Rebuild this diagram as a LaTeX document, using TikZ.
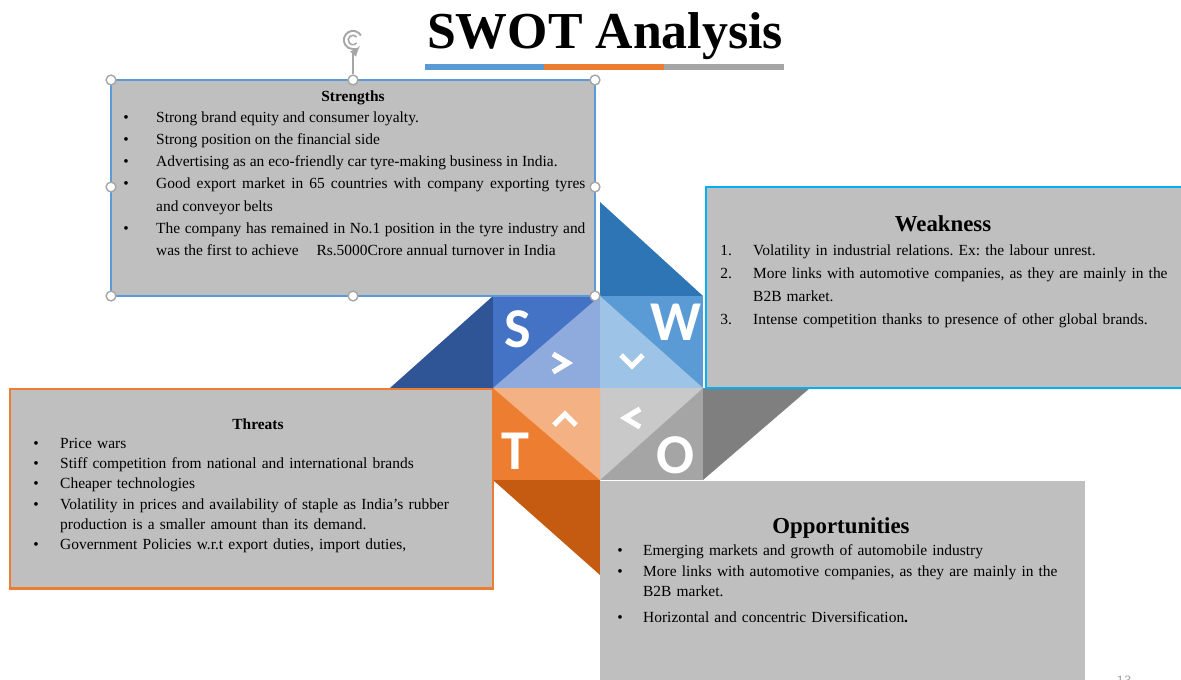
\documentclass[tikz,border=0pt]{standalone}
\usepackage{fontspec}
\setmainfont{Liberation Serif}
\newfontfamily\letterfont{Carlito}
\usepackage{tikz}
\usetikzlibrary{fit}

\definecolor{boxgray}{HTML}{BFBFBF}
\definecolor{sdark}{HTML}{2F5597}
\definecolor{sblue}{HTML}{4472C4}
\definecolor{slight}{HTML}{8FAADC}
\definecolor{wdark}{HTML}{2E75B6}
\definecolor{wblue}{HTML}{5B9BD5}
\definecolor{wlight}{HTML}{9DC3E6}
\definecolor{tdark}{HTML}{C55A11}
\definecolor{torange}{HTML}{ED7D31}
\definecolor{tlight}{HTML}{F4B183}
\definecolor{odark}{HTML}{7F7F7F}
\definecolor{ogray}{HTML}{A5A5A5}
\definecolor{olight}{HTML}{C9C9C9}
\definecolor{wframe}{HTML}{00B0F0}
\definecolor{handlegray}{HTML}{A6A6A6}

\hyphenpenalty=10000
\exhyphenpenalty=10000
\frenchspacing

\newcommand{\bulitem}[3]{\par\hangindent=#1\hangafter=1\noindent\makebox[#1][l]{#2}#3\par}

\tikzset{
  textbox/.style={fill=boxgray, inner sep=0pt, line width=1.7pt},
  listtext/.style={anchor=north west, inner sep=0pt, font=\fontsize{8.8}{12.6}\selectfont},
  boxhead/.style={inner sep=0pt, font=\bfseries\fontsize{13}{13}\selectfont},
  smallhead/.style={inner sep=0pt, font=\bfseries\fontsize{8.8}{8.8}\selectfont},
  quadletter/.style={inner sep=0pt, text=white, font=\letterfont\bfseries\fontsize{32}{32}\selectfont},
  chevron/.style={white, line width=3pt},
  handle/.style={circle, draw=handlegray, fill=white, line width=0.8pt, minimum size=5.6pt, inner sep=0pt}
}

\begin{document}
\begin{tikzpicture}[x=0.02cm, y=-0.02cm]
    \useasboundingbox (0,0) rectangle (1181,680);
    \clip (0,0) rectangle (1181,680);

    % title and coloured rule
    \node[inner sep=0pt, font=\bfseries\fontsize{29.5}{29.5}\selectfont] (title) at (605,36) {SWOT Analysis};
    \fill[wblue] (425,64) rectangle (544,70);
    \fill[torange] (544,64) rectangle (664,70);
    \fill[ogray] (664,64) rectangle (784,70);

    % pinwheel
    \fill[sdark] (390,388) -- (493,296) -- (493,388) -- cycle;
    \fill[sblue] (493,296) rectangle (600,388);
    \fill[slight] (493,388) -- (600,296) -- (600,388) -- cycle;
    \fill[wdark] (600,202) -- (703,296) -- (600,296) -- cycle;
    \fill[wblue] (600,296) rectangle (703,388);
    \fill[wlight] (600,296) -- (703,388) -- (600,388) -- cycle;
    \fill[odark] (703,388) -- (810,388) -- (703,480) -- cycle;
    \fill[ogray] (600,388) rectangle (703,480);
    \fill[olight] (600,388) -- (703,388) -- (600,480) -- cycle;
    \fill[tdark] (493,480) -- (600,480) -- (600,575) -- cycle;
    \fill[torange] (493,388) rectangle (600,480);
    \fill[tlight] (493,388) -- (600,388) -- (600,480) -- cycle;

    \node[quadletter] (S) at (518,329) {S};
    \node[quadletter] (W) at (676,322) {W};
    \node[quadletter] (T) at (515,451) {T};
    \node[quadletter] (O) at (676,455) {O};

    \draw[chevron] (553,354) -- (568,363) -- (553,372);
    \draw[chevron] (621,355) -- (632,366) -- (643,355);
    \draw[chevron] (554,425) -- (565,414) -- (576,425);
    \draw[chevron] (640,409) -- (625,418) -- (640,427);

    % strengths
    \node[textbox, draw=wblue, fit={(111,80) (595,296)}] (strengths) {};
    \node[smallhead] (strengths head) at (353,98) {Strengths};
    \node[listtext, text width=263pt, align=justify] (strengths list) at (123,100) {%
      \spaceskip=.25em plus .2em\relax
      \bulitem{18.7pt}{\textbullet}{Strong brand equity and consumer loyalty.}
      \bulitem{18.7pt}{\textbullet}{Strong position on the financial side}
      \bulitem{18.7pt}{\textbullet}{Advertising as an eco-friendly car tyre-making business in India.}
      \bulitem{18.7pt}{\textbullet}{Good export market in 65 countries with company exporting tyres and conveyor belts}
      \bulitem{18.7pt}{\textbullet}{The company has remained in No.1 position in the tyre industry and was the first to achieve \hspace{0.9em}Rs.5000Crore annual turnover in India}};

    \foreach \hx/\hy [count=\i] in {111/80, 353/80, 595/80, 111/187, 595/187, 111/296, 353/296, 595/296}
      \node[handle] (h\i) at (\hx,\hy) {};
    \node[inner sep=0pt, minimum size=13pt] (rot) at (353,40) {};
    \draw[handlegray, line width=0.8pt] (rot) -- (h2);
    \draw[handlegray, line width=1.1pt, -latex] (rot.center) ++(30:5.2pt) arc[start angle=30, end angle=320, radius=5.2pt];
    \draw[handlegray, line width=0.9pt] (rot.center) ++(40:2.7pt) arc[start angle=40, end angle=320, radius=2.7pt];

    % weakness
    \node[textbox, draw=wframe, fit={(706,187) (1190,388)}] (weakness) {};
    \node[boxhead] (weakness head) at (943,224) {Weakness};
    \node[listtext, text width=256pt, align=left, font=\fontsize{8.8}{13}\selectfont] (weakness list) at (720,232.5) {%
      \bulitem{18.7pt}{1.}{Volatility in industrial relations. Ex: the labour unrest.}
      \bulitem{18.7pt}{2.}{More links with automotive companies, as they are mainly in the B2B market.}
      \bulitem{18.7pt}{3.}{Intense competition thanks to presence of other global brands.}};

    % threats
    \node[textbox, draw=torange, fit={(10,389) (493,588)}] (threats) {};
    \node[smallhead] (threats head) at (258,424) {Threats};
    \node[listtext, text width=255pt, align=left, font=\fontsize{8.8}{11.5}\selectfont] (threats list) at (33,428) {%
      \bulitem{15.3pt}{\textbullet}{Price wars}
      \bulitem{15.3pt}{\textbullet}{Stiff competition from national and international brands}
      \bulitem{15.3pt}{\textbullet}{Cheaper technologies}
      \bulitem{15.3pt}{\textbullet}{Volatility in prices and availability of staple as India’s rubber production is a smaller amount than its demand.}
      \bulitem{15.3pt}{\textbullet}{Government Policies w.r.t export duties, import duties,}};

    % opportunities
    \node[textbox, fit={(600,481) (1085,690)}] (opportunities) {};
    \node[boxhead] (opportunities head) at (841,528) {Opportunities};
    \node[listtext, text width=258pt, align=left, font=\fontsize{8.8}{11.6}\selectfont] (opportunities list) at (617,535) {%
      \bulitem{14.7pt}{\textbullet}{Emerging markets and growth of automobile industry}
      \bulitem{14.7pt}{\textbullet}{More links with automotive companies, as they are mainly in the B2B market.}\vspace{3.4pt}
      \bulitem{14.7pt}{\textbullet}{Horizontal and concentric Diversification\textbf{.}}};

    \node[anchor=north, inner sep=0pt, text=handlegray, font=\sffamily\fontsize{8}{8}\selectfont] (page) at (1124,676) {13};
\end{tikzpicture}
\end{document}
